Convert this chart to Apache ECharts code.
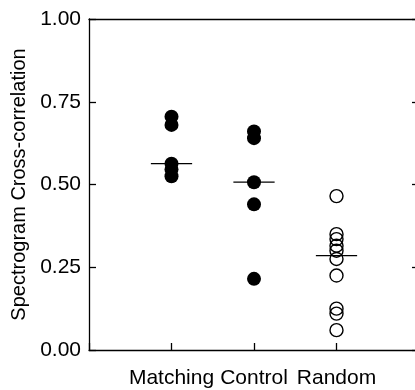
<!DOCTYPE html>
<html>
<head>
<meta charset="utf-8">
<script src="https://cdn.jsdelivr.net/npm/echarts@6/dist/echarts.min.js"></script>
<style>html,body{margin:0;padding:0;background:#fff}#c{width:415px;height:390px}</style>
</head>
<body>
<div id="c"></div>
<script>
var categories = ['Matching', 'Control', 'Random'];
var matching = [0.705, 0.68, 0.563, 0.545, 0.525];
var control = [0.66, 0.64, 0.507, 0.44, 0.215];
var random = [0.465, 0.35, 0.335, 0.315, 0.30, 0.275, 0.225, 0.125, 0.11, 0.06];
var medians = [0.563, 0.507, 0.285];
var yTicks = ['0.00', '0.25', '0.50', '0.75', '1.00'];

function pts(catIdx, vals) { return vals.map(function (v) { return [catIdx + 1, v]; }); }

var FONT = 'Liberation Sans, Arial, sans-serif';
var chart = echarts.init(document.getElementById('c'), null, {renderer: 'canvas'});
chart.setOption({
  animation: false,
  backgroundColor: '#fff',
  grid: {left: 89, width: 330, top: 19, height: 331, show: false, containLabel: false, outerBoundsMode: 'none'},
  xAxis: [{
    type: 'value', min: 0, max: 4, interval: 1,
    axisLine: {show: true, lineStyle: {color: '#000', width: 1.3}},
    axisTick: {show: true, inside: true, length: 7, lineStyle: {color: '#000', width: 1.3}},
    splitLine: {show: false},
    axisLabel: {
      margin: 18, color: '#000', fontSize: 21, fontFamily: FONT,
      formatter: function (v) { return categories[v - 1] || ''; }
    }
  }, {
    type: 'value', min: 0, max: 4, position: 'top',
    axisLine: {show: true, onZero: false, lineStyle: {color: '#000', width: 1.3}},
    axisTick: {show: false}, axisLabel: {show: false}, splitLine: {show: false}
  }],
  yAxis: [{
    type: 'value', min: 0, max: 1, interval: 0.25,
    name: 'Spectrogram Cross-correlation', nameLocation: 'middle', nameGap: 58,
    nameTextStyle: {color: '#000', fontSize: 20, fontFamily: FONT},
    axisLine: {show: true, lineStyle: {color: '#000', width: 1.3}},
    axisTick: {show: true, inside: true, length: 7, lineStyle: {color: '#000', width: 1.3}},
    splitLine: {show: false},
    axisLabel: {
      margin: 8, color: '#000', fontSize: 21, fontFamily: FONT,
      formatter: function (v) { return yTicks[Math.round(v / 0.25)]; }
    }
  }, {
    type: 'value', min: 0, max: 1, interval: 0.25, position: 'right',
    axisLine: {show: true, onZero: false, lineStyle: {color: '#000', width: 1.3}},
    axisTick: {show: true, inside: true, length: 7, lineStyle: {color: '#000', width: 1.3}},
    axisLabel: {show: false}, splitLine: {show: false}
  }],
  series: [
    {type: 'scatter', data: pts(0, matching), symbol: 'circle', symbolSize: 14,
     itemStyle: {color: '#000', opacity: 1}},
    {type: 'scatter', data: pts(1, control), symbol: 'circle', symbolSize: 14,
     itemStyle: {color: '#000', opacity: 1}},
    {type: 'scatter', data: pts(2, random), symbol: 'circle', symbolSize: 13,
     itemStyle: {color: 'rgba(255,255,255,0)', borderColor: '#000', borderWidth: 1.4, opacity: 1}},
    {type: 'custom', z: 5,
     data: medians.map(function (m, i) { return [i + 1, m]; }),
     renderItem: function (params, api) {
       var x = api.value(0), y = api.value(1);
       var a = api.coord([x - 0.25, y]), b = api.coord([x + 0.25, y]);
       return {type: 'line', shape: {x1: a[0], y1: a[1], x2: b[0], y2: b[1]},
               style: {stroke: '#000', lineWidth: 1.3}};
     }}
  ]
});
</script>
</body>
</html>
